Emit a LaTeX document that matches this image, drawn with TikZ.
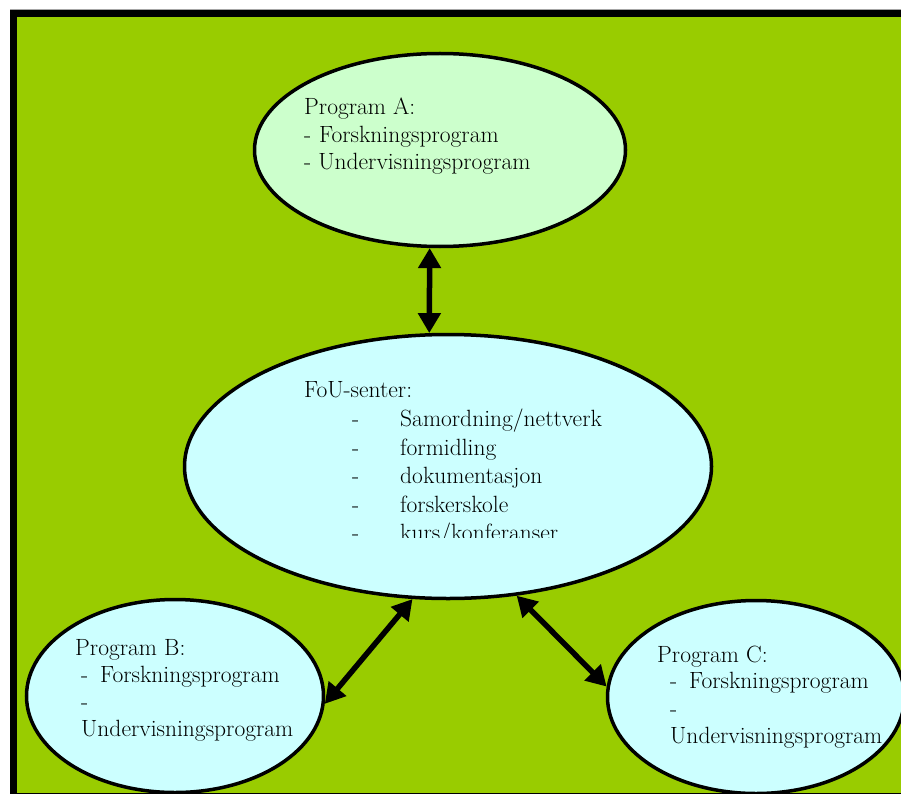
\documentclass[tikz,border=0pt]{standalone}
\usetikzlibrary{shapes.geometric,arrows.meta}
\definecolor{bg}{HTML}{99CC00}
\definecolor{palegreen}{HTML}{CCFFCC}
\definecolor{palecyan}{HTML}{CCFFFF}
\begin{document}
\begin{tikzpicture}[x=1pt,y=-1pt,
  bubble/.style={ellipse, draw=black, line width=3.5pt, inner sep=0pt},
  txt/.style={anchor=base west, inner sep=0pt, font=\fontsize{23.5}{27}\selectfont},
  link/.style={line width=5.5pt, {Triangle[length=20pt,width=22pt]}-{Triangle[length=20pt,width=22pt]}}]
\useasboundingbox (0,0) rectangle (901,794);
\fill[white] (0,0) rectangle (901,794);
\draw[black!35, line width=0.8pt] (10,9.4) -- (901,9.4);
\fill[black] (10,10) rectangle (901,794);
\fill[bg] (17,17) rectangle (901,792.5);
\begin{scope}
\clip (17,17) rectangle (901,792.5);
\node[bubble, fill=palegreen, minimum width=371pt, minimum height=193pt] (A) at (440,150) {};
\node[bubble, fill=palecyan, minimum width=527pt, minimum height=264pt] (F) at (448,466.5) {};
\node[bubble, fill=palecyan, minimum width=297pt, minimum height=193pt] (B) at (175,696) {};
\node[bubble, fill=palecyan, minimum width=297pt, minimum height=193pt] (C) at (756,697) {};

\draw[link] (A.264) -- (F.98);
\draw[link] (B.357) -- (F.255);
\draw[link] (C.176) -- (F.298);

% Program A
\node[txt] (a1) at (304,115) {Program A:};
\node[txt] (a2) at (304,143) {-};
\node[txt] (a3) at (319,143) {Forskningsprogram};
\node[txt] (a4) at (304,170) {- Undervisningsprogram};

% FoU
\node[txt] (f0) at (304,397) {FoU-senter:};
\node[txt] (d1) at (352,426) {-};
\node[txt] (f1) at (400,426) {Samordning/nettverk};
\node[txt] (d2) at (352,455) {-};
\node[txt] (f2) at (400,455) {formidling};
\node[txt] (d3) at (352,483) {-};
\node[txt] (f3) at (400,483) {dokumentasjon};
\node[txt] (d4) at (352,512) {-};
\node[txt] (f4) at (400,512) {forskerskole};
\begin{scope}
\clip (300,515) rectangle (700,537.5);
\node[txt] (d5) at (352,540) {-};
\node[txt] (f5) at (400,540) {kurs/konferanser};
\end{scope}

% Program B
\node[txt] (b1) at (75,655) {Program B:};
\node[txt] (b2) at (81,682) {-};
\node[txt] (b3) at (100,682) {Forskningsprogram};
\node[txt] (b4) at (81,709) {-};
\node[txt] (b5) at (81,736) {Undervisningsprogram};

% Program C
\node[txt] (c1) at (657,662) {Program C:};
\node[txt] (c2) at (670,688) {-};
\node[txt] (c3) at (689,688) {Forskningsprogram};
\node[txt] (c4) at (670,716) {-};
\node[txt] (c5) at (670,743) {Undervisningsprogram};
\end{scope}
\end{tikzpicture}
\end{document}
